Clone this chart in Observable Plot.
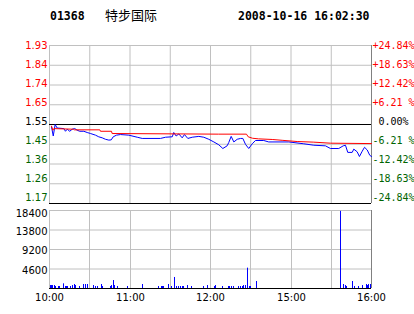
<!DOCTYPE html>
<html><head><meta charset="utf-8">
<script src="https://cdn.jsdelivr.net/npm/d3@7"></script>
<script src="https://cdn.jsdelivr.net/npm/@observablehq/plot@0.6"></script>
<style>
body{margin:0;background:#fff;width:414px;height:314px;overflow:hidden;}
#title{position:relative;height:38px;color:#000;}
#title span{position:absolute;white-space:pre;}
.mono{font-family:"DejaVu Sans Mono",monospace;font-weight:bold;font-size:11.5px;line-height:12px;top:10px;}
.cjk{font-family:"Noto Sans CJK SC",sans-serif;font-size:13px;line-height:13px;top:8px;}
svg{overflow:visible;display:block;}
svg text{white-space:pre;}
</style></head><body>
<div id="title"><span id="code" class="mono" style="left:50px"></span><span id="name" class="cjk" style="left:105px"></span><span id="stamp" class="mono" style="left:238px"></span></div>
<div id="price"></div>
<div id="vol"></div>
<script>
// ---- text ----
const stockCode = "01368";
const stockName = "特步国际";
const stamp = "2008-10-16 16:02:30";

// ---- axis labels ----
const prevClose = 1.55;
const pctLevels = [24.84, 18.63, 12.42, 6.21, 0, -6.21, -12.42, -18.63, -24.84];
const priceLabels = ["1.93", "1.84", "1.74", "1.65", "1.55", "1.45", "1.36", "1.26", "1.17"];
const pctLabels = ["+24.84%", "+18.63%", "+12.42%", "+6.21 %", " 0.00%", "-6.21 %", "-12.42%", "-18.63%", "-24.84%"];
const gridMinutes = [0, 30, 60, 90, 120, 150, 180, 210, 240]; // trading minutes from 10:00 (lunch 12:30-14:30 removed)
const timeTickMinutes = [0, 60, 120, 180, 240];
const timeTickLabels = ["10:00", "11:00", "12:00", "15:00", "16:00"];
const volTicks = [4600, 9200, 13800, 18400];
const volTickLabels = ["4600", "9200", "13800", "18400"];

// ---- price series (trading minute, price) ----
const priceMinute = [1.5,2.8,4.2,5.7,10.7,11.9,13.2,15.1,16.9,18.9,20.6,22.6,25.6,28.1,30.6,34.3,36.7,39.3,41.7,44.2,46,47.5,49.9,52.9,59.1,65.4,69.1,82.7,86.5,91.5,92.6,94.4,96.4,98.9,100.6,103.1,106.4,111.3,115,118.7,122.5,126.2,129.2,132.4,133.6,135.4,137.4,139.9,142.4,144.1,146.1,148.5,151.1,153.5,159.7,163.4,178.4,189.5,197,205.7,209.4,215.6,218.9,220.6,222.3,225.6,226.8,229.3,231,233.1,234.8,236.8,238.7,240];
const priceValue = [1.538,1.494,1.550,1.533,1.530,1.517,1.527,1.517,1.527,1.530,1.522,1.517,1.517,1.511,1.506,1.498,1.490,1.485,1.478,1.474,1.475,1.490,1.498,1.501,1.498,1.488,1.482,1.482,1.488,1.490,1.511,1.494,1.504,1.485,1.501,1.482,1.488,1.492,1.488,1.478,1.465,1.451,1.433,1.446,1.462,1.492,1.465,1.478,1.482,1.482,1.453,1.433,1.456,1.472,1.472,1.465,1.465,1.456,1.449,1.446,1.433,1.433,1.446,1.449,1.414,1.414,1.430,1.417,1.394,1.420,1.439,1.426,1.400,1.394];

// ---- average price series ----
const avgMinute = [1.5,2.5,3.2,18.1,18.6,37.5,38,46.2,46.7,126,146.8,148.1,151.3,155.8,166,173.4,184.6,197,209.4,240];
const avgValue = [1.542,1.522,1.530,1.527,1.524,1.524,1.517,1.517,1.506,1.503,1.503,1.490,1.483,1.480,1.477,1.473,1.467,1.464,1.459,1.457];

// ---- volume ----
const volMinute = [0.7,1.5,2.5,3.7,4.5,6.5,7.5,10.7,11.9,12.7,13.6,15.7,16.9,18.4,19.1,22.6,25.6,26.8,28.3,33,34.3,36,38.8,39.7,45.5,46.2,47.9,48.7,50.9,58.4,69.5,81.5,83.5,84.5,85.2,88.5,90.9,93.4,94.4,96.4,97.4,98.9,100.1,102.6,105.8,115,117.5,123,123.7,129.2,133.2,134.2,135.7,137.4,141.1,142.4,143.6,144.8,146.1,147.8,149.1,150,154,216.6,219.4,220.6,221.6,225.6,227.6,230.6,233.5,236,237,238,239.5];
const volValue = [700,700,700,700,470,470,470,1100,470,470,470,470,700,940,700,470,940,940,940,700,470,470,940,470,470,700,1880,700,470,470,940,470,470,470,470,940,470,2600,470,470,470,470,470,700,470,470,700,470,700,470,470,470,470,470,470,470,470,700,700,4800,470,470,1650,18200,940,700,470,1650,470,470,700,940,700,940,940];

// ---- build ----
document.getElementById("code").textContent = stockCode;
document.getElementById("name").textContent = stockName;
document.getElementById("stamp").textContent = stamp;

const yDom = [prevClose * (1 - 0.2484), prevClose * (1 + 0.2484)];
const labelPitch = 0.962; // the labels sit on a slightly tighter pitch than the grid
const labelY = v => yDom[1] - (yDom[1] - v) * labelPitch;
const levels = pctLevels.map((p, i) => {
  const v = prevClose * (1 + p / 100);
  return {v, ly: labelY(v), p, price: priceLabels[i], pct: pctLabels[i], last: i === pctLevels.length - 1};
});
const priceData = priceMinute.map((t, i) => ({t, v: priceValue[i]}));
const avgData = avgMinute.map((t, i) => ({t, v: avgValue[i]}));
const volData = volMinute.map((t, i) => ({t, v: volValue[i]}));
const GRID = "#c0c0c0", RED = "#ff0000", GREEN = "#006400", BLUE = "#0000ff", EDGE = "#808080";

const sideLabels = (filter, fill) => [
  Plot.text(levels.filter(filter), {y: "ly", text: "price", frameAnchor: "left", textAnchor: "end", dx: -2, fill}),
  Plot.text(levels.filter(filter), {y: "ly", text: "pct", frameAnchor: "right", textAnchor: "start", dx: 1, fill, fontFamily: "DejaVu Sans Mono"})
];

const pricePlot = Plot.plot({
  width: 414, height: 172,
  marginLeft: 49, marginRight: 43, marginTop: 7, marginBottom: 7,
  x: {domain: [0, 240], axis: null},
  y: {domain: yDom, axis: null},
  style: {background: "none", fontFamily: "DejaVu Sans", fontSize: "10px"},
  marks: [
    Plot.ruleX(gridMinutes.slice(0, -1), {x: d => d, stroke: GRID}),
    Plot.ruleY(levels.filter(d => d.p !== 0 && !d.last), {y: "v", stroke: GRID}),
    Plot.ruleX([240], {x: d => d, stroke: EDGE}),
    Plot.ruleY(levels.filter(d => d.p === 0 || d.last), {y: "v", stroke: "#000"}),
    Plot.line(priceData, {x: "t", y: "v", stroke: BLUE, strokeWidth: 1}),
    Plot.line(avgData, {x: "t", y: "v", stroke: RED, strokeWidth: 1}),
    ...sideLabels(d => d.p > 0, RED),
    ...sideLabels(d => d.p === 0, "#000"),
    ...sideLabels(d => d.p < 0, GREEN)
  ]
});
document.getElementById("price").appendChild(pricePlot);

const volPlot = Plot.plot({
  width: 414, height: 104,
  marginLeft: 49, marginRight: 43, marginTop: 0, marginBottom: 26,
  x: {domain: [0, 240], axis: null, round: true},
  y: {domain: [0, 18400], axis: null},
  style: {background: "none", fontFamily: "DejaVu Sans", fontSize: "10px"},
  marks: [
    Plot.ruleX(gridMinutes.slice(0, -1), {x: d => d, stroke: GRID}),
    Plot.ruleY(volTicks, {y: d => d, stroke: GRID}),
    Plot.ruleX([240], {x: d => d, stroke: EDGE}),
    Plot.ruleX(volData, {x: "t", y1: 0, y2: "v", stroke: BLUE}),
    Plot.ruleY([0], {y: d => d, stroke: "#000"}),
    Plot.text(volTicks.slice(0, -1), {y: d => d, text: (d, i) => volTickLabels[i], frameAnchor: "left", textAnchor: "end", dx: -2, dy: 1.5, fill: "#000"}),
    Plot.text(volTicks.slice(-1), {y: d => d, text: () => volTickLabels[volTickLabels.length - 1], frameAnchor: "left", textAnchor: "end", dx: -2, dy: 3, fill: "#000"}),
    Plot.text(timeTickMinutes, {x: d => d, text: (d, i) => timeTickLabels[i], frameAnchor: "bottom", lineAnchor: "top", dy: 5, fill: "#000"})
  ]
});
document.getElementById("vol").appendChild(volPlot);
</script>
</body></html>
